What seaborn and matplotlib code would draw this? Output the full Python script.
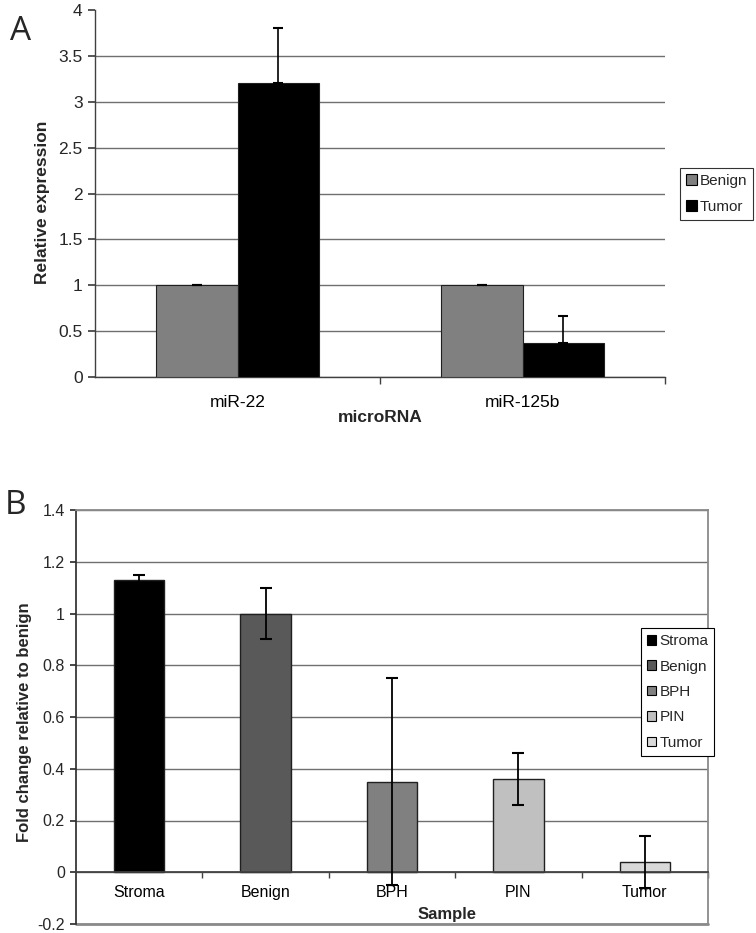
import numpy as np
import pandas as pd
import matplotlib
matplotlib.use("Agg")
import matplotlib.pyplot as plt
from matplotlib.ticker import FixedLocator, NullFormatter
import seaborn as sns

# panel A data
mirnas = ["miR-22", "miR-125b"]
groups_a = ["Benign", "Tumor"]
benign_vals = [1.0, 1.0]
tumor_vals = [3.2, 0.37]
benign_err = [0.005, 0.005]
tumor_err = [0.6, 0.3]
colors_a = ["#808080", "#000000"]

# panel B data
samples = ["Stroma", "Benign", "BPH", "PIN", "Tumor"]
fold_vals = [1.13, 1.0, 0.35, 0.36, 0.04]
fold_err = [0.02, 0.1, 0.4, 0.1, 0.1]
colors_b = ["#000000", "#595959", "#808080", "#c0c0c0", "#d9d9d9"]

sns.set_theme(style="white")
plt.rcParams["font.family"] = ["Liberation Sans", "DejaVu Sans"]

W, H = 756, 933
fig = plt.figure(figsize=(W / 100, H / 100), dpi=100)

def frac(l, t, r, b):
    return [l / W, 1 - b / H, (r - l) / W, (b - t) / H]

grid_col = "#6f6f6f"

# ---------------- Panel A ----------------
df_a = pd.DataFrame({
    "microRNA": mirnas * 2,
    "group": [groups_a[0]] * 2 + [groups_a[1]] * 2,
    "value": benign_vals + tumor_vals,
})
axA = fig.add_axes(frac(95, 10, 665, 377))
sns.barplot(data=df_a, x="microRNA", y="value", hue="group", hue_order=groups_a,
            palette=colors_a, width=0.57, edgecolor="#202020", linewidth=0.8,
            errorbar=None, ax=axA, zorder=3, legend=False)
errs_a = benign_err + tumor_err
vals_a = benign_vals + tumor_vals
for p, v, e in zip(axA.patches[:4], vals_a, errs_a):
    axA.errorbar(p.get_x() + p.get_width() / 2, v, yerr=[[0], [e]], fmt="none",
                 ecolor="black", elinewidth=1.2, capsize=3.5, capthick=1.5, zorder=4)
axA.set_ylim(0, 4)
axA.set_xlim(-0.5, 1.5)
axA.set_yticks(np.arange(0, 4.01, 0.5))
axA.set_yticklabels(["0", "0.5", "1", "1.5", "2", "2.5", "3", "3.5", "4"])
axA.yaxis.grid(True, color=grid_col, linewidth=1)
axA.yaxis.get_gridlines()[-1].set_visible(False)
axA.xaxis.set_minor_locator(FixedLocator([0.5, 1.5]))
axA.xaxis.set_minor_formatter(NullFormatter())
axA.tick_params(axis="x", which="major", length=0, labelsize=12.5, pad=13, colors="black")
axA.tick_params(axis="x", which="minor", length=5, direction="out", color="#404040", bottom=True)
axA.tick_params(axis="y", length=5, direction="out", labelsize=12.5, color="#404040", left=True, pad=4)
for s in ["top", "right"]:
    axA.spines[s].set_visible(False)
for s in ["left", "bottom"]:
    axA.spines[s].set_color("#404040")
    axA.spines[s].set_linewidth(1)
axA.set_xlabel("")
axA.set_ylabel("")
handles_a = [plt.Rectangle((0, 0), 1, 1, facecolor=c, edgecolor="black", linewidth=0.8) for c in colors_a]
legA = fig.legend(handles_a, groups_a, loc="upper left", bbox_to_anchor=(680 / W, 1 - 168 / H),
                  bbox_transform=fig.transFigure, fontsize=11, frameon=True, fancybox=False,
                  handlelength=0.7, handleheight=0.7, handletextpad=0.2, labelspacing=0.75,
                  borderpad=0.4, borderaxespad=0)
legA.get_frame().set_edgecolor("black")
legA.get_frame().set_linewidth(0.8)
fig.text(43 / W, 1 - 202 / H, "Relative expression", rotation=90, ha="center", va="center",
         fontsize=12.5, fontweight="bold")
fig.text(380 / W, 1 - 417 / H, "microRNA", ha="center", va="center", fontsize=12.5, fontweight="bold")
fig.text(21 / W, 1 - 32 / H, "A", ha="center", va="center", fontsize=24, family="Open Sans")

# ---------------- Panel B ----------------
df_b = pd.DataFrame({"sample": samples, "value": fold_vals})
axB = fig.add_axes(frac(76, 510, 708, 924))
sns.barplot(data=df_b, x="sample", y="value", hue="sample", palette=colors_b, width=0.4,
            edgecolor="#202020", linewidth=1, errorbar=None, ax=axB, zorder=3, legend=False)
for p, v, e in zip(axB.patches[:5], fold_vals, fold_err):
    axB.errorbar(p.get_x() + p.get_width() / 2, v, yerr=e, fmt="none", ecolor="black",
                 elinewidth=1.3, capsize=4, capthick=1.5, zorder=4, clip_on=False)
axB.set_ylim(-0.2, 1.4)
axB.set_xlim(-0.5, 4.5)
axB.set_yticks(np.arange(-0.2, 1.41, 0.2))
axB.set_yticklabels(["-0.2", "0", "0.2", "0.4", "0.6", "0.8", "1", "1.2", "1.4"])
axB.yaxis.grid(True, color=grid_col, linewidth=1)
axB.spines["bottom"].set_position(("data", 0))
axB.spines["bottom"].set_color("#404040")
axB.spines["bottom"].set_zorder(3.5)
axB.spines["left"].set_color("#303030")
for s in ["top", "right"]:
    axB.spines[s].set_color("#8a8a8a")
    axB.spines[s].set_linewidth(1.3)
axB.axhline(-0.2, color="#8a8a8a", linewidth=2, clip_on=False)
axB.xaxis.set_minor_locator(FixedLocator([0.5, 1.5, 2.5, 3.5, 4.5]))
axB.xaxis.set_minor_formatter(NullFormatter())
axB.tick_params(axis="x", which="major", length=0, labelsize=11.5, pad=9, colors="black")
axB.tick_params(axis="x", which="minor", length=4, direction="out", color="#404040", bottom=True)
axB.tick_params(axis="y", length=4, direction="out", labelsize=11.5, color="#303030", left=True, pad=4)
axB.set_xlabel("")
axB.set_ylabel("")
handles_b = [plt.Rectangle((0, 0), 1, 1, facecolor=c, edgecolor="black", linewidth=0.8) for c in colors_b]
legB = fig.legend(handles_b, samples, loc="upper left", bbox_to_anchor=(641 / W, 1 - 628 / H),
                  bbox_transform=fig.transFigure, fontsize=11, frameon=True, fancybox=False,
                  framealpha=1, handlelength=0.6, handleheight=0.6, handletextpad=0.2,
                  labelspacing=0.75, borderpad=0.4, borderaxespad=0)
legB.get_frame().set_edgecolor("black")
legB.get_frame().set_linewidth(0.8)
legB.set_zorder(10)
fig.text(25 / W, 1 - 722 / H, "Fold change relative to benign", rotation=90, ha="center",
         va="center", fontsize=12, fontweight="bold")
fig.text(447 / W, 1 - 915 / H, "Sample", ha="center", va="center", fontsize=12, fontweight="bold")
fig.text(16 / W, 1 - 506 / H, "B", ha="center", va="center", fontsize=24, family="Open Sans")

fig.savefig("out.png", dpi=100, facecolor="white")
